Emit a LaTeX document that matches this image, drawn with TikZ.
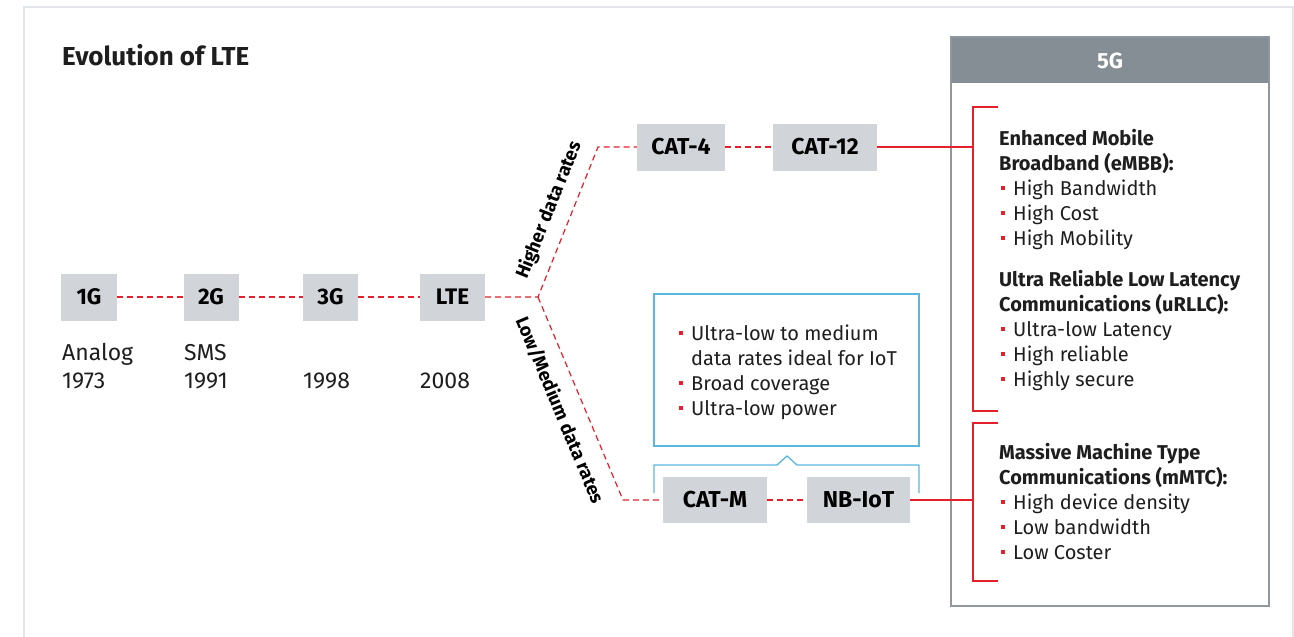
\documentclass[tikz,border=0pt]{standalone}
\usepackage{fontspec}
\setmainfont{Fira Sans}
\definecolor{lred}{HTML}{E3202B}
\definecolor{boxg}{HTML}{D1D5DA}
\definecolor{hdrg}{HTML}{858D95}
\definecolor{brdg}{HTML}{8F979F}
\definecolor{frameg}{HTML}{E2E5E9}
\definecolor{lblue}{HTML}{5BB7E0}
\definecolor{txt}{HTML}{1E1E1E}
\newcommand{\bul}{\textcolor{lred}{\rule[5.5pt]{4pt}{4pt}}\hspace{8pt}}
\begin{document}
\begin{tikzpicture}[x=1pt,y=-1pt,
  gbox/.style={fill=boxg, inner sep=0pt, minimum height=47pt, text=black,
    font=\bfseries\fontsize{22.5}{22.5}\selectfont},
  cbox/.style={gbox, font=\bfseries\fontsize{23}{23}\selectfont},
  lab/.style={anchor=base west, inner sep=0pt, text=txt,
    font=\fontsize{23}{28}\selectfont},
  body/.style={anchor=base west, inner sep=0pt, align=left, text=txt,
    font=\fontsize{20}{25}\selectfont},
  rdash/.style={draw=lred, line width=1.2pt, dash pattern=on 6pt off 4pt},
  rsolid/.style={draw=lred, line width=1.4pt},
  rot/.style={inner sep=0pt, text=black, font=\bfseries\fontsize{18.5}{18.5}\selectfont}
]
\useasboundingbox (0,0) rectangle (1294,637);
\fill[white] (0,0) rectangle (1294,637);
% outer frame
\draw[frameg, line width=1.5pt] (24,637) -- (24,7) -- (1293,7) -- (1293,637);

% title
\node[anchor=base west, inner sep=0pt, text=txt, font=\bfseries\fontsize{26}{26}\selectfont] (title) at (62,65.7) {Evolution of LTE};

% timeline boxes
\node[gbox, minimum width=56pt] (g1) at (89,297) {1G};
\node[gbox, minimum width=55pt] (g2) at (211,297) {2G};
\node[gbox, minimum width=55pt] (g3) at (330.5,297) {3G};
\node[gbox, minimum width=65pt] (lte) at (452.5,297) {LTE};

\node[lab] (a1) at (62,360) {Analog};
\node[lab] (y1) at (62,388) {1973};
\node[lab] (a2) at (184,360) {SMS};
\node[lab] (y2) at (184,388) {1991};
\node[lab] (y3) at (303,388) {1998};
\node[lab] (y4) at (420,388) {2008};

\draw[rdash] (g1) -- (g2);
\draw[rdash] (g2) -- (g3);
\draw[rdash] (g3) -- (lte);

% branches
\coordinate (jn) at (538,297);
\coordinate (hup) at (598,147);
\coordinate (hlo) at (623,500);

\node[cbox, minimum width=88pt] (c4) at (681,147) {CAT-4};
\node[cbox, minimum width=104pt] (c12) at (825,147) {CAT-12};
\node[cbox, minimum width=104pt, minimum height=46pt] (cm) at (715,500) {CAT-M};
\node[cbox, minimum width=103pt, minimum height=46pt] (nb) at (858.5,500) {NB-IoT};

\draw[rdash] (lte.east) -- (jn) -- (hup) -- (c4.west);
\draw[rdash] (jn) -- (hlo) -- (cm.west);
\draw[rdash] (c4) -- (c12);
\draw[rdash] (cm) -- (nb);

\node[rot, rotate=68.2] (hi) at (549,210) {Higher data rates};
\node[rot, rotate=-67.3] (lo) at (560,410) {Low/Medium data rates};

% blue box
\draw[lblue, line width=1.3pt] (654,294) rectangle (919,446);
\node[body] (iot) at (679,415) {\bul Ultra-low to medium\\\phantom{\bul}data rates ideal for IoT\\\bul Broad coverage\\\bul Ultra-low power};
\draw[lblue, line width=1.3pt] (654,493) -- (654,465) -- (777,465) -- (787,456) -- (797,465) -- (919,465) -- (919,493);

% 5G box
\fill[hdrg] (951,37) rectangle (1269,83);
\draw[brdg, line width=1.5pt] (951,37) rectangle (1269,606);
\node[text=white, inner sep=0pt, font=\bfseries\fontsize{22}{22}\selectfont] (fg) at (1110,61) {5G};

% brackets
\coordinate (b1) at (973,147);
\coordinate (b2) at (973,500);
\draw[rsolid] (998,107) -- (973,107) -- (973,411) -- (998,411);
\draw[rsolid] (998,423) -- (973,423) -- (973,581) -- (998,581);
\draw[rsolid] (c12.east) -- (b1);
\draw[rsolid] (nb.east) -- (b2);

% 5G texts
\node[body] (embb) at (999,245.7) {\textbf{Enhanced Mobile}\\\textbf{Broadband (eMBB):}\\\hspace{2pt}\bul High Bandwidth\\\hspace{2pt}\bul High Cost\\\hspace{2pt}\bul High Mobility};
\node[body] (urllc) at (999,386.7) {\textbf{Ultra Reliable Low Latency}\\\textbf{Communications (uRLLC):}\\\hspace{2pt}\bul Ultra-low Latency\\\hspace{2pt}\bul High reliable\\\hspace{2pt}\bul Highly secure};
\node[body] (mmtc) at (999,559) {\textbf{Massive Machine Type}\\\textbf{Communications (mMTC):}\\\hspace{2pt}\bul High device density\\\hspace{2pt}\bul Low bandwidth\\\hspace{2pt}\bul Low Coster};
\end{tikzpicture}
\end{document}
